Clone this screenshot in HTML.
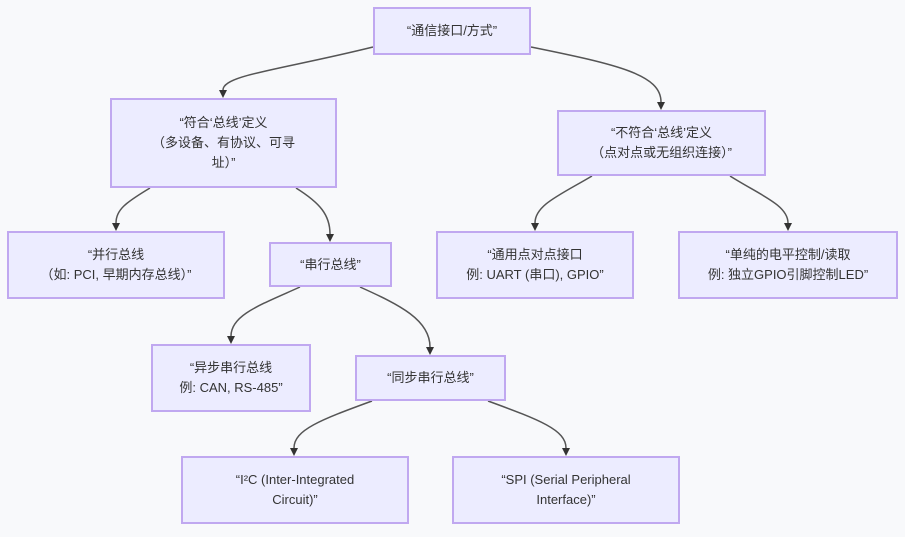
<!DOCTYPE html>
<html><head><meta charset="utf-8"><style>
body{margin:0;background:#f8f9fb;width:905px;height:537px;overflow:hidden;position:relative;font-family:"Liberation Sans","Noto Sans CJK SC",sans-serif;}
.n{position:absolute;box-sizing:border-box;background:#ececff;border:2px solid #c0a8f0;display:flex;align-items:center;justify-content:center;text-align:center;color:#333;font-size:13px;line-height:20px;}
svg{position:absolute;left:0;top:0}
</style></head><body>
<svg width="905" height="537">
<g fill="none" stroke="#555" stroke-width="1.5">
<path d="M373,47 C280,70 223,75 223,90"/>
<path d="M531,47 C620,65 661,75 661,102"/>
<path d="M150,188 C125,203 116,210 116,223"/>
<path d="M296,188 C320,203 330,215 330,234"/>
<path d="M592,176 C560,195 535,205 535,223"/>
<path d="M730,176 C760,195 788,205 788,223"/>
<path d="M300,287 C260,305 231,315 231,336"/>
<path d="M360,287 C400,305 430,320 430,347"/>
<path d="M372,401 C320,420 294,430 294,448"/>
<path d="M488,401 C540,420 566,430 566,448"/>
</g>
<g fill="#333">
<path d="M219,90 L227,90 L223,98z"/><path d="M657,102 L665,102 L661,110z"/>
<path d="M112,223 L120,223 L116,231z"/><path d="M326,234 L334,234 L330,242z"/>
<path d="M531,223 L539,223 L535,231z"/><path d="M784,223 L792,223 L788,231z"/>
<path d="M227,336 L235,336 L231,344z"/><path d="M426,347 L434,347 L430,355z"/>
<path d="M290,448 L298,448 L294,456z"/><path d="M562,448 L570,448 L566,456z"/>
</g>
</svg>
<div class="n" style="left:373px;top:7px;width:158px;height:48px">“通信接口/方式”</div>
<div class="n" style="left:110px;top:98px;width:227px;height:90px">“符合‘总线’定义<br>（多设备、有协议、可寻<br>址）”</div>
<div class="n" style="left:557px;top:110px;width:209px;height:66px">“不符合‘总线’定义<br>（点对点或无组织连接）”</div>
<div class="n" style="left:7px;top:231px;width:218px;height:68px">“并行总线<br>（如: PCI, 早期内存总线）”</div>
<div class="n" style="left:269px;top:242px;width:123px;height:45px">“串行总线”</div>
<div class="n" style="left:436px;top:231px;width:198px;height:68px">“通用点对点接口<br>例: UART (串口), GPIO”</div>
<div class="n" style="left:678px;top:231px;width:220px;height:68px">“单纯的电平控制/读取<br>例: 独立GPIO引脚控制LED”</div>
<div class="n" style="left:151px;top:344px;width:160px;height:68px">“异步串行总线<br>例: CAN, RS-485”</div>
<div class="n" style="left:355px;top:355px;width:151px;height:46px">“同步串行总线”</div>
<div class="n" style="left:181px;top:456px;width:228px;height:68px">“I²C (Inter-Integrated<br>Circuit)”</div>
<div class="n" style="left:452px;top:456px;width:228px;height:68px">“SPI (Serial Peripheral<br>Interface)”</div>
</body></html>
